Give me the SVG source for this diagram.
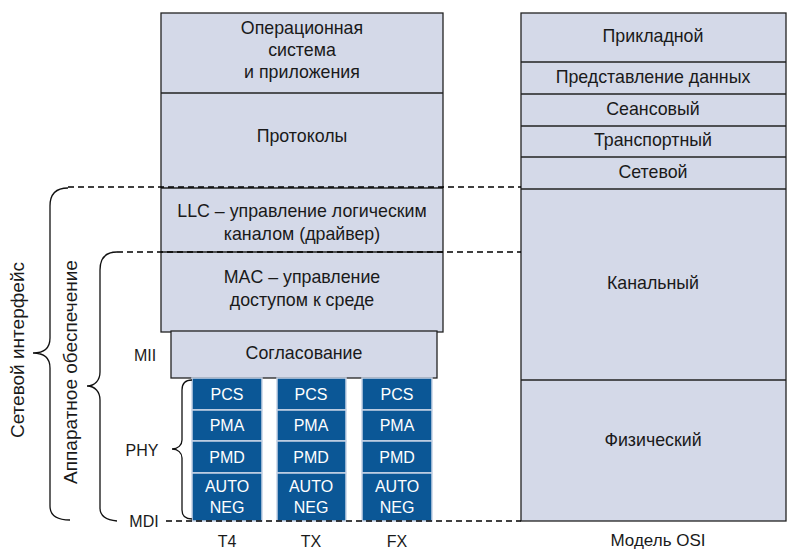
<svg xmlns="http://www.w3.org/2000/svg" width="787" height="551" viewBox="0 0 787 551">
<style>
text{font-family:"Liberation Sans",Arial,sans-serif;font-size:17.8px;fill:#1a1a1a;text-anchor:middle;dominant-baseline:central}
.sm{font-size:16px}
.rot{font-size:19px}
.box{fill:#d4d9e8;stroke:#222;stroke-width:1.3}
.ln{stroke:#222;stroke-width:1.3;fill:none}
.blue{fill:#0b5796;stroke:#c8d4e6;stroke-width:1.5}
.bt{fill:#fff;font-size:16px}
.dash{stroke:#000;stroke-width:1.6;stroke-dasharray:6,4;fill:none}
.brace{stroke:#111;stroke-width:1.3;fill:none}
</style>
<g id="stack">
<rect class="box" x="161" y="13" width="282" height="319"/>
<line class="ln" x1="161" y1="93" x2="443" y2="93"/>
<line class="ln" x1="161" y1="188" x2="443" y2="188"/>
<line class="ln" x1="161" y1="252" x2="443" y2="252"/>
<text x="302" y="28">Операционная</text>
<text x="302" y="50">система</text>
<text x="302" y="72">и приложения</text>
<text x="302" y="136">Протоколы</text>
<text x="302" y="211">LLC – управление логическим</text>
<text x="302" y="234">каналом (драйвер)</text>
<text x="302" y="277">MAC – управление</text>
<text x="302" y="300">доступом к среде</text>
</g>
<g id="rs">
<rect class="box" x="171" y="331" width="266" height="47"/>
<text x="304" y="353">Согласование</text>
</g>
<g id="phy-t4">
<rect class="blue" x="192" y="378" width="70" height="32"/>
<rect class="blue" x="192" y="410" width="70" height="31"/>
<rect class="blue" x="192" y="441" width="70" height="32"/>
<rect class="blue" x="192" y="473" width="70" height="48"/>
<text class="bt" x="227" y="394">PCS</text>
<text class="bt" x="227" y="425">PMA</text>
<text class="bt" x="227" y="457">PMD</text>
<text class="bt" x="227" y="486">AUTO</text>
<text class="bt" x="227" y="507">NEG</text>
<text class="sm" x="227" y="541">T4</text>
</g>
<g id="phy-tx">
<rect class="blue" x="277" y="378" width="69" height="32"/>
<rect class="blue" x="277" y="410" width="69" height="31"/>
<rect class="blue" x="277" y="441" width="69" height="32"/>
<rect class="blue" x="277" y="473" width="69" height="48"/>
<text class="bt" x="311" y="394">PCS</text>
<text class="bt" x="311" y="425">PMA</text>
<text class="bt" x="311" y="457">PMD</text>
<text class="bt" x="311" y="486">AUTO</text>
<text class="bt" x="311" y="507">NEG</text>
<text class="sm" x="311" y="541">TX</text>
</g>
<g id="phy-fx">
<rect class="blue" x="362" y="378" width="70" height="32"/>
<rect class="blue" x="362" y="410" width="70" height="31"/>
<rect class="blue" x="362" y="441" width="70" height="32"/>
<rect class="blue" x="362" y="473" width="70" height="48"/>
<text class="bt" x="397" y="394">PCS</text>
<text class="bt" x="397" y="425">PMA</text>
<text class="bt" x="397" y="457">PMD</text>
<text class="bt" x="397" y="486">AUTO</text>
<text class="bt" x="397" y="507">NEG</text>
<text class="sm" x="397" y="541">FX</text>
</g>
<g id="osi">
<rect class="box" x="521" y="13" width="265" height="508"/>
<line class="ln" x1="521" y1="62" x2="786" y2="62"/>
<line class="ln" x1="521" y1="94" x2="786" y2="94"/>
<line class="ln" x1="521" y1="126" x2="786" y2="126"/>
<line class="ln" x1="521" y1="157" x2="786" y2="157"/>
<line class="ln" x1="521" y1="189" x2="786" y2="189"/>
<line class="ln" x1="521" y1="380" x2="786" y2="380"/>
<text x="653" y="36">Прикладной</text>
<text x="653" y="77">Представление данных</text>
<text x="653" y="109">Сеансовый</text>
<text x="653" y="140">Транспортный</text>
<text x="653" y="172">Сетевой</text>
<text x="653" y="283">Канальный</text>
<text x="653" y="440">Физический</text>
<text x="658" y="540" style="font-size:17px">Модель OSI</text>
</g>
<g id="connectors">
<line class="dash" x1="68" y1="187" x2="521" y2="187"/>
<line class="dash" x1="117" y1="252" x2="521" y2="252"/>
<line class="dash" x1="166" y1="521" x2="521" y2="521"/>
<path class="brace" d="M68,188 C56,188 50,194 50,206 L50,338 C50,348 44,353 33,353 C44,353 50,358 50,368 L50,506 C50,516 58,520 70,520"/>
<path class="brace" d="M117,252 C105,252 100,258 100,270 L100,372 C100,380 95,386 87,386 C95,386 100,392 100,400 L100,508 C100,516 106,520 117,521"/>
<path class="brace" d="M192,380 C186,380 182,383 182,390 L182,440 C182,445 178,449 172,449 C178,449 182,453 182,458 L182,510 C182,516 186,519 192,519"/>
</g>
<g id="labels">
<text class="sm" x="145" y="355">MII</text>
<text class="sm" x="142" y="450">PHY</text>
<text class="sm" x="144" y="521">MDI</text>
<text class="rot" x="17" y="350" transform="rotate(-90 17 350)">Сетевой интерфейс</text>
<text class="rot" x="70" y="372" transform="rotate(-90 70 372)">Аппаратное обеспечение</text>
</g>
</svg>
